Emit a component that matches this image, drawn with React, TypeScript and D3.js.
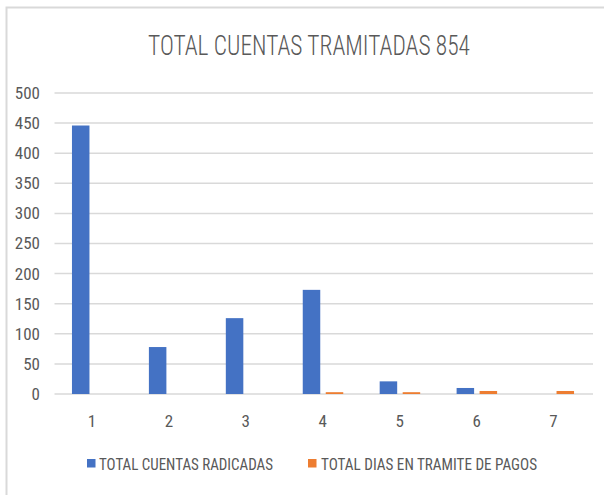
import React from "react";
import * as d3 from "d3";

const categories = ["1", "2", "3", "4", "5", "6", "7"];
const radicadas = [446, 78, 126, 173, 21, 10, 0];
const diasTramite = [0, 0, 0, 3, 3, 5, 5];
const yTicks = [0, 50, 100, 150, 200, 250, 300, 350, 400, 450, 500];
const seriesNames = ["TOTAL CUENTAS RADICADAS", "TOTAL DIAS EN TRAMITE DE PAGOS"];
const title = "TOTAL CUENTAS TRAMITADAS 854";

const W = 604;
const H = 495;
const FONT = "'Liberation Sans Narrow', 'Roboto Condensed', 'Liberation Sans', sans-serif";
const TEXT = "#595959";
const GRID = "#d9d9d9";
const BLUE = "#4472C4";
const ORANGE = "#ED7D31";

export default function App() {
  const x = d3.scaleBand<string>().domain(categories).range([54.5, 593]).padding(0);
  const y = d3.scaleLinear().domain([0, 500]).range([394, 93]);
  const bw = 17.5;
  return (
    <svg width={W} height={H} style={{ position: "absolute", left: 0, top: 0, background: "#fff" }} fontFamily={FONT}>
      <rect x={0} y={0} width={W} height={H} fill="#fff" />
      <rect x={6.5} y={7.5} width={W + 20} height={H + 20} fill="#fff" stroke={GRID} strokeWidth={2} />
      <text x={309} y={55} textAnchor="middle" fontSize={28} fontWeight={300} fill={TEXT} textLength={322} lengthAdjust="spacingAndGlyphs">
        {title}
      </text>
      {yTicks.map((t) => (
        <g key={t}>
          <line x1={54.5} x2={593} y1={y(t)} y2={y(t)} stroke={GRID} strokeWidth={1.5} />
          <text x={40} y={y(t)} dy="0.35em" textAnchor="end" fontSize={17} fill={TEXT}>
            {t}
          </text>
        </g>
      ))}
      {categories.map((c, i) => {
        const cx = (x(c) as number) + x.bandwidth() / 2;
        return (
          <g key={c}>
            {radicadas[i] > 0 && (
              <rect x={cx - 21} y={y(radicadas[i])} width={bw} height={y(0) - y(radicadas[i])} fill={BLUE} />
            )}
            {diasTramite[i] > 0 && (
              <rect x={cx + 2} y={y(diasTramite[i])} width={bw} height={y(0) - y(diasTramite[i])} fill={ORANGE} />
            )}
            <text x={cx - 1} y={427} textAnchor="middle" fontSize={17} fill={TEXT}>
              {c}
            </text>
          </g>
        );
      })}
      <rect x={87} y={459} width={8.5} height={8.5} fill={BLUE} />
      <text x={99} y={470} fontSize={17} fill={TEXT} textLength={174} lengthAdjust="spacingAndGlyphs">
        {seriesNames[0]}
      </text>
      <rect x={308} y={459} width={8.5} height={8.5} fill={ORANGE} />
      <text x={321} y={470} fontSize={17} fill={TEXT} textLength={216} lengthAdjust="spacingAndGlyphs">
        {seriesNames[1]}
      </text>
    </svg>
  );
}
